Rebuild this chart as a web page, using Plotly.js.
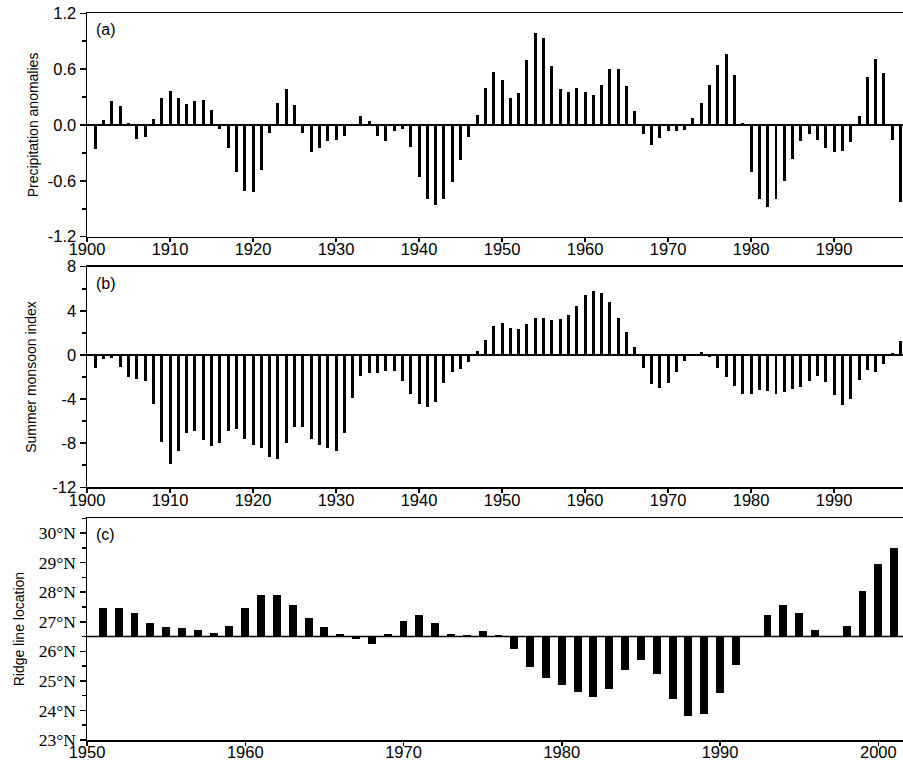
<!DOCTYPE html>
<html>
<head>
<meta charset="utf-8">
<script src="https://cdn.plot.ly/plotly-3.0.1.min.js"></script>
<style>html,body{margin:0;padding:0;background:#fff;}#chart{width:903px;height:761px;}</style>
</head>
<body>
<div id="chart"></div>
<script>
// Panel (a): precipitation anomalies, 1901-1998
const precipYears = [];
for (let y = 1901; y <= 1998; y++) precipYears.push(y);
const precipValues = [
  -0.26, 0.05, 0.26, 0.20, 0.02, -0.15, -0.13, 0.06, 0.29, 0.36,
  0.29, 0.23, 0.26, 0.27, 0.16, -0.04, -0.25, -0.50, -0.71, -0.72,
  -0.48, -0.09, 0.24, 0.39, 0.22, -0.09, -0.29, -0.25, -0.17, -0.16,
  -0.12, 0.00, 0.10, 0.04, -0.12, -0.17, -0.06, -0.04, -0.24, -0.56,
  -0.80, -0.86, -0.79, -0.61, -0.38, -0.13, 0.11, 0.40, 0.57, 0.48,
  0.29, 0.34, 0.70, 0.99, 0.94, 0.63, 0.39, 0.35, 0.40, 0.35,
  0.32, 0.43, 0.60, 0.60, 0.42, 0.15, -0.10, -0.22, -0.14, -0.06,
  -0.06, -0.05, 0.07, 0.24, 0.43, 0.65, 0.76, 0.54, 0.02, -0.51,
  -0.80, -0.88, -0.80, -0.60, -0.36, -0.17, -0.10, -0.16, -0.25, -0.29,
  -0.28, -0.18, 0.10, 0.52, 0.71, 0.56, -0.16, -0.83
];
const precipTickVals = [-1.2, -0.6, 0, 0.6, 1.2];
const precipTickText = ['-1.2', '-0.6', '0.0', '0.6', '1.2'];

// Panel (b): summer monsoon index, 1901-1998
const monsoonYears = precipYears.slice();
const monsoonValues = [
  -1.15, -0.33, -0.24, -1.06, -2.00, -2.18, -2.33, -4.42, -7.88, -9.85,
  -8.67, -7.06, -6.94, -7.67, -8.24, -7.94, -6.85, -6.67, -7.61, -8.12,
  -8.48, -9.21, -9.39, -8.00, -6.52, -6.52, -7.61, -8.12, -8.48, -8.70,
  -7.12, -3.88, -1.88, -1.61, -1.61, -1.42, -1.42, -2.33, -3.58, -4.42,
  -4.76, -4.24, -2.58, -1.52, -1.27, -0.61, 0.36, 1.36, 2.60, 2.90,
  2.48, 2.36, 2.79, 3.33, 3.33, 3.15, 3.30, 3.64, 4.42, 5.42,
  5.82, 5.60, 4.82, 3.36, 2.09, 0.73, -1.15, -2.67, -3.03, -2.58,
  -1.58, -0.55, 0.00, 0.27, -0.21, -1.15, -2.03, -2.85, -3.55, -3.55,
  -3.21, -3.30, -3.58, -3.33, -3.06, -2.94, -2.33, -1.91, -2.45, -3.67,
  -4.52, -3.97, -2.30, -1.39, -1.52, -0.79, 0.15, 1.24
];
const monsoonTickVals = [-12, -8, -4, 0, 4, 8];
const monsoonTickText = ['-12', '-8', '-4', '0', '4', '8'];

// Panel (c): ridge line location (degrees N), 1951-2001
const ridgeYears = [];
for (let y = 1951; y <= 2001; y++) ridgeYears.push(y);
const ridgeValues = [
  27.47, 27.47, 27.31, 26.95, 26.83, 26.79, 26.71, 26.62, 26.86, 27.47,
  27.92, 27.92, 27.55, 27.12, 26.83, 26.59, 26.40, 26.26, 26.58, 27.03,
  27.23, 26.95, 26.59, 26.56, 26.70, 26.56, 26.07, 25.48, 25.10, 24.86,
  24.63, 24.47, 24.74, 25.38, 25.71, 25.24, 24.39, 23.81, 23.89, 24.59,
  25.54, 26.50, 27.23, 27.55, 27.29, 26.71, 26.50, 26.85, 28.03, 28.96,
  29.48
];
const ridgeBase = 26.5;

const yTitles = ['Precipitation anomalies', 'Summer monsoon index', 'Ridge line location'];
const panelLabels = ['(a)', '(b)', '(c)'];

const sans = 'Liberation Sans, Arial, sans-serif';
const serif = 'Liberation Serif, Times New Roman, serif';

const traces = [
  {type: 'bar', x: precipYears, y: precipValues, width: 0.36,
   marker: {color: '#000', line: {width: 0}}, xaxis: 'x', yaxis: 'y', hoverinfo: 'x+y'},
  {type: 'bar', x: monsoonYears, y: monsoonValues, width: 0.36,
   marker: {color: '#000', line: {width: 0}}, xaxis: 'x2', yaxis: 'y2', hoverinfo: 'x+y'},
  {type: 'bar', x: ridgeYears, y: ridgeValues.map(v => v - ridgeBase), base: ridgeBase, width: 0.5,
   marker: {color: '#000', line: {width: 0}}, xaxis: 'x3', yaxis: 'y3', hoverinfo: 'x'}
];

function xax(range, anchor) {
  return {
    range: range, anchor: anchor, domain: [0, 1],
    tick0: 1900, dtick: 10, ticks: 'outside', ticklen: 4, tickwidth: 1.5, tickcolor: '#000',
    ticklabelstandoff: -7,
    showline: true, linecolor: '#000', linewidth: 1.5, mirror: true,
    showgrid: false, zeroline: false,
    tickfont: {family: sans, size: 16.5, color: '#000'}
  };
}
function yax(range, domain, anchor, dtick, minorDtick, extra) {
  return Object.assign({
    range: range, domain: domain, anchor: anchor,
    tick0: 0, dtick: dtick, ticks: 'outside', ticklen: 6, tickwidth: 1.5, tickcolor: '#000',
    minor: {dtick: minorDtick, ticks: 'outside', ticklen: 4, tickwidth: 1.5, tickcolor: '#000', showgrid: false},
    showline: true, linecolor: '#000', linewidth: 1.5,
    showgrid: false, zeroline: true, zerolinecolor: '#000', zerolinewidth: 1.5,
    tickfont: {family: sans, size: 16.5, color: '#000'}
  }, extra);
}

const H = 761;
const dom = (top, bottom) => [(H - bottom) / H, (H - top) / H];
const titleFont = {family: sans, size: 14, color: '#000'};

const layout = {
  width: 903, height: 761,
  margin: {l: 87, r: 0, t: 0, b: 0},
  paper_bgcolor: '#fff', plot_bgcolor: '#fff',
  showlegend: false, bargap: 0,
  xaxis: xax([1900, 1998.3], 'y'),
  xaxis2: xax([1900, 1998.3], 'y2'),
  xaxis3: xax([1950, 2001.56], 'y3'),
  yaxis: yax([-1.2, 1.2], dom(13.3, 236.7), 'x', 0.6, 0.3,
    {tickmode: 'array', tickvals: precipTickVals, ticktext: precipTickText,
     title: {text: yTitles[0], standoff: 6, font: titleFont}}),
  yaxis2: yax([-12, 8], dom(266.7, 487.3), 'x2', 4, 2,
    {tickmode: 'array', tickvals: monsoonTickVals, ticktext: monsoonTickText,
     title: {text: yTitles[1], standoff: 12, font: titleFont}}),
  yaxis3: yax([23, 30.5], dom(518.3, 740), 'x3', 1, 0.5,
    {tick0: 23, zeroline: false, ticksuffix: '°N', tickfont: {family: serif, size: 17.5, color: '#000'},
     title: {text: yTitles[2], standoff: 11, font: titleFont}}),
  shapes: [
    {type: 'line', xref: 'x3 domain', x0: 0, x1: 1, yref: 'y3', y0: ridgeBase, y1: ridgeBase,
     line: {color: '#000', width: 1.5}, layer: 'above'}
  ],
  annotations: panelLabels.map((t, i) => ({
    text: t, showarrow: false,
    xref: (i === 0 ? 'x' : 'x' + (i + 1)) + ' domain',
    yref: (i === 0 ? 'y' : 'y' + (i + 1)) + ' domain',
    x: 0, y: 1, xanchor: 'left', yanchor: 'top', xshift: 7, yshift: -6,
    font: {family: sans, size: 16, color: '#000'}
  }))
};

Plotly.newPlot('chart', traces, layout, {displayModeBar: false, staticPlot: true});
</script>
</body>
</html>
